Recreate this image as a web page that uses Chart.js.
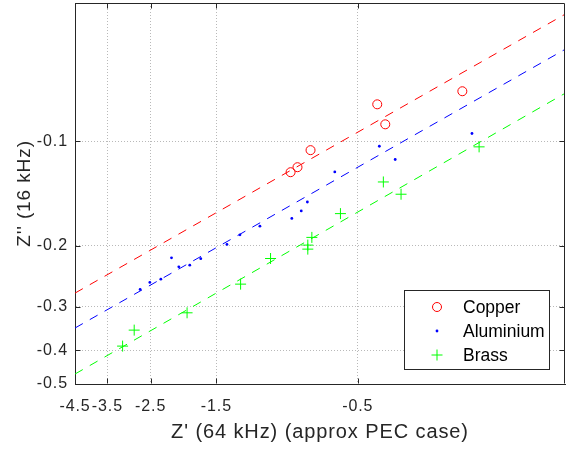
<!DOCTYPE html>
<html><head><meta charset="utf-8">
<script src="https://cdn.jsdelivr.net/npm/chart.js@4.4.1/dist/chart.umd.min.js"></script>
<style>html,body{margin:0;padding:0;background:#fff;}canvas{display:block;}</style>
</head><body>
<canvas id="c" width="566" height="449" style="width:566px;height:449px"></canvas>
<script>
// ---- data ----
const xTickValues = [-4.5, -3.5, -2.5, -1.5, -0.5];
const yTickValues = [-0.1, -0.2, -0.3, -0.4, -0.5];
const xLimits = [-4.5, -0.1];
const yLimits = [-0.04, -0.5];
const seriesNames = ['Copper', 'Aluminium', 'Brass'];

const copperX = [-0.843, -0.799, -0.722, -0.430, -0.404, -0.222];
const copperY = [-0.1228, -0.1188, -0.1061, -0.0783, -0.0894, -0.0718];

const aluminiumX = [-2.713, -2.516, -2.310, -2.126, -2.009, -1.845, -1.694, -1.382, -1.249, -1.070, -0.835, -0.776, -0.740, -0.598, -0.423, -0.374, -0.206];
const aluminiumY = [-0.2671, -0.2550, -0.2495, -0.2166, -0.2299, -0.2274, -0.2178, -0.1982, -0.1860, -0.1756, -0.1668, -0.1587, -0.1496, -0.1226, -0.1034, -0.1129, -0.0950];

const brassX = [-3.109, -2.841, -1.884, -1.243, -0.985, -0.7375, -0.7375, -0.7147, -0.5723, -0.4101, -0.3574, -0.1949];
const brassY = [-0.3889, -0.3498, -0.3119, -0.2579, -0.2176, -0.1991, -0.2045, -0.1892, -0.1616, -0.1310, -0.1421, -0.1038];

const fitX = [-4.5, -0.1];
const copperFitY = [-0.2737, -0.0431];
const aluminiumFitY = [-0.345, -0.0544];
const brassFitY = [-0.468, -0.0728];

// ---- build chart ----
const pts = (xs, ys) => xs.map((x, i) => ({x: Math.abs(x), y: Math.abs(ys[i])}));
const AX = '#262626';
const RED = '#ff0000', BLUE = '#0000ff', GREEN = '#00ff00';

const markerStyles = [
  {pointStyle: 'circle', radius: 4.5, borderWidth: 1, color: RED, fill: 'rgba(0,0,0,0)'},
  {pointStyle: 'circle', radius: 1.4, borderWidth: 0, color: BLUE, fill: BLUE},
  {pointStyle: 'cross', radius: 5.5, borderWidth: 1, color: GREEN, fill: GREEN}
];

function scatterSet(i, xs, ys) {
  const m = markerStyles[i];
  return {label: seriesNames[i], data: pts(xs, ys), showLine: false,
    pointStyle: m.pointStyle, pointRadius: m.radius, pointHoverRadius: m.radius,
    pointBorderWidth: m.borderWidth, pointBorderColor: m.color, pointBackgroundColor: m.fill,
    borderColor: m.color, backgroundColor: m.fill};
}
function fitSet(color, ys) {
  return {label: 'fit', data: pts(fitX, ys), showLine: true, borderColor: color,
    borderWidth: 1, borderDash: [9, 8], pointRadius: 0, fill: false};
}

const spacingPlugin = {
  id: 'spacing',
  beforeLayout(chart) { chart.ctx.letterSpacing = '0.9px'; },
  beforeDraw(chart) { chart.ctx.letterSpacing = '0.9px'; }
};

const boxPlugin = {
  id: 'box',
  afterDraw(chart) {
    const {ctx, chartArea: a, scales} = chart;
    ctx.save();
    ctx.letterSpacing = '0px';
    ctx.strokeStyle = AX; ctx.lineWidth = 1;
    const L = Math.round(a.left) + 0.5, R = Math.round(a.right) - 0.5;
    const T = Math.round(a.top) + 0.5, B = Math.round(a.bottom) - 0.5;
    ctx.beginPath();
    ctx.moveTo(L, T); ctx.lineTo(R, T); ctx.lineTo(R, B);
    ctx.stroke();
    const tl = 5;
    ctx.beginPath();
    xTickValues.forEach(v => {
      const x = Math.round(scales.x.getPixelForValue(Math.abs(v))) + 0.5;
      ctx.moveTo(x, B); ctx.lineTo(x, B - tl);
      ctx.moveTo(x, T); ctx.lineTo(x, T + tl);
    });
    yTickValues.forEach(v => {
      const y = Math.round(scales.y.getPixelForValue(Math.abs(v))) + 0.5;
      ctx.moveTo(L, y); ctx.lineTo(L + tl, y);
      ctx.moveTo(R, y); ctx.lineTo(R - tl, y);
    });
    ctx.stroke();

    // legend box
    const bx = 404.5, by = 290.5, bw = 145, bh = 79;
    ctx.fillStyle = '#fff';
    ctx.fillRect(bx, by, bw, bh);
    ctx.strokeStyle = AX;
    ctx.strokeRect(bx, by, bw, bh);
    ctx.font = '17.5px "Liberation Sans", Arial, sans-serif';
    ctx.textBaseline = 'middle';
    ctx.textAlign = 'left';
    const rows = [307, 331, 355];
    seriesNames.forEach((name, i) => {
      const m = markerStyles[i];
      ctx.strokeStyle = m.color; ctx.fillStyle = m.fill;
      Chart.helpers.drawPoint(ctx, {pointStyle: m.pointStyle, radius: m.radius, borderWidth: m.borderWidth, rotation: 0}, 437, rows[i]);
      ctx.fillStyle = '#000';
      ctx.fillText(name, 463, rows[i] + 1);
    });
    ctx.restore();
  }
};

const tickFont = {family: '"Liberation Sans", Arial, sans-serif', size: 16};

new Chart(document.getElementById('c'), {
  type: 'scatter',
  data: {datasets: [
    scatterSet(0, copperX, copperY),
    scatterSet(1, aluminiumX, aluminiumY),
    scatterSet(2, brassX, brassY),
    fitSet(RED, copperFitY),
    fitSet(BLUE, aluminiumFitY),
    fitSet(GREEN, brassFitY)
  ]},
  options: {
    responsive: false, animation: false, devicePixelRatio: 1,
    layout: {autoPadding: false, padding: {left: 0, top: 3, right: 1, bottom: 0}},
    plugins: {legend: {display: false}, tooltip: {enabled: false}},
    scales: {
      x: {
        type: 'logarithmic', reverse: true,
        min: Math.abs(xLimits[1]), max: Math.abs(xLimits[0]),
        afterBuildTicks: s => { s.ticks = xTickValues.map(v => ({value: Math.abs(v)})); },
        afterFit: s => { s.height = 65; s.paddingLeft = 0; s.paddingRight = 0; },
        ticks: {callback: v => '-' + v, autoSkip: false, maxRotation: 0, minRotation: 0,
          color: AX, font: tickFont, padding: 13},
        grid: {color: 'rgba(38,38,38,0.32)', lineWidth: 1, drawTicks: false},
        border: {display: true, color: AX, width: 1, dash: [1, 2]},
        title: {display: true, text: "Z' (64 kHz) (approx PEC case)", color: AX,
          font: {family: '"Liberation Sans", Arial, sans-serif', size: 20}, padding: {top: 0, bottom: 5}}
      },
      y: {
        type: 'logarithmic', reverse: true,
        min: Math.abs(yLimits[0]), max: Math.abs(yLimits[1]),
        afterBuildTicks: s => { s.ticks = yTickValues.map(v => ({value: Math.abs(v)})); },
        afterFit: s => { s.width = 75; s.paddingTop = 0; s.paddingBottom = 0; },
        ticks: {callback: v => '-' + v, autoSkip: false, color: AX, font: tickFont, padding: 7},
        grid: {color: 'rgba(38,38,38,0.32)', lineWidth: 1, drawTicks: false},
        border: {display: true, color: AX, width: 1, dash: [1, 2]},
        title: {display: true, text: "Z'' (16 kHz)", color: AX,
          font: {family: '"Liberation Sans", Arial, sans-serif', size: 19}, padding: {top: 13, bottom: 0}}
      }
    }
  },
  plugins: [spacingPlugin, boxPlugin]
});
</script>
</body></html>
